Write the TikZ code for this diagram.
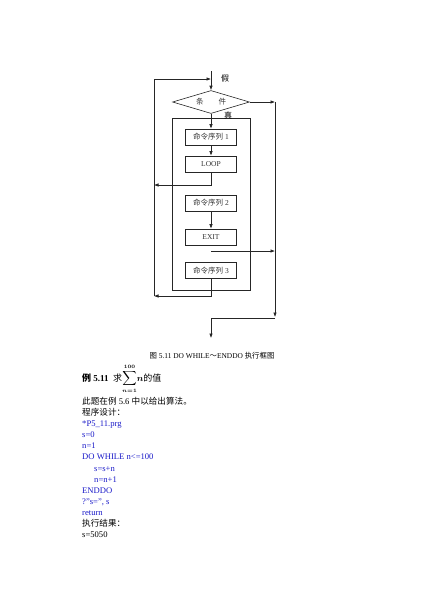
\documentclass[tikz,border=0pt]{standalone}
\usepackage{fontspec}
\setmainfont{Liberation Serif}
\newfontfamily\cjk{Noto Sans CJK SC}
\usepackage{tikz}
\usepackage{xcolor}
\usetikzlibrary{shapes.geometric,arrows.meta,positioning,calc}
\definecolor{codeblue}{RGB}{25,25,200}

\begin{document}
\begin{tikzpicture}[x=1pt, y=-1pt,
    line/.style={draw=black!85, line width=0.6pt},
    arr/.style={line, -{Latex[length=4.5pt,width=3.5pt]}},
    cmdbox/.style={draw=black!85, line width=0.6pt, minimum width=51pt, minimum height=16pt, inner sep=0pt, font=\fontsize{7.5}{8}\selectfont, text=black!80},
    lbl/.style={font=\fontsize{8}{9}\selectfont\cjk, inner sep=0pt}]
    \useasboundingbox (0,0) rectangle (424,600);

    % flow chart
    \node[diamond, aspect=3, draw=black!85, line width=0.6pt, minimum width=77pt, minimum height=23pt, inner sep=0pt, font=\fontsize{7.5}{8}\selectfont\cjk, text=black!80] (cond) at (211,102) {条　　件};
    \node[draw=black!85, line width=0.6pt, minimum width=78pt, minimum height=172pt] (body) at (211.5,204) {};
    \node[cmdbox] (seq1) at (211,137) {{\cjk 命令序列} 1};
    \node[cmdbox] (loop) at (211,164) {LOOP};
    \node[cmdbox] (seq2) at (211,203) {{\cjk 命令序列} 2};
    \node[cmdbox] (exit) at (211,237) {EXIT};
    \node[cmdbox] (seq3) at (211,270.5) {{\cjk 命令序列} 3};
    \node[lbl] (no) at (225,78) {假};
    \node[lbl] (yes) at (228,115) {真};

    \coordinate (entry) at (211,71);
    \coordinate (lt) at (154,79);
    \coordinate (lb) at (154,296);
    \coordinate (back) at (154,185);
    \coordinate (rt) at (275,102);
    \coordinate (rb) at (275,317);
    \coordinate (jump) at (211,251);
    \coordinate (out) at (211,338);

    \draw[arr] (entry) -- (cond.north);
    \draw[arr] (lt) -- (entry |- lt);
    \draw[line] (lt) -- (lb);
    \draw[arr] (cond.south) -- (seq1.north);
    \draw[arr] (seq1) -- (loop);
    \draw[arr] (loop.south) |- (back);
    \draw[arr] (seq2) -- (exit);
    \draw[arr] (jump) -- (jump -| rt);
    \draw[arr] (seq3.south) |- (lb);
    \draw[arr] (cond.east) -- (rt);
    \draw[arr] (rt) -- (rb);
    \draw[arr] (rb) ++(0,1) -| (out);

    % caption and text
    \node[font=\fontsize{7.4}{8}\selectfont] (cap) at (212,356) {{\cjk 图} 5.11 DO WHILE{\cjk ～}ENDDO {\cjk 执行框图}};
    \node[anchor=base west, inner sep=0pt, font=\fontsize{9}{10}\selectfont] (head) at (82,381) {{\cjk\bfseries 例} \textbf{5.11}\enspace{\cjk 求}{\boldmath$\displaystyle\sum_{\scriptscriptstyle n=1}^{\scriptscriptstyle 100}\!n$}{\cjk 的值}};
    \node[anchor=north west, inner sep=0pt, align=left, font=\fontsize{8.6}{11.1}\selectfont] (prog) at (82,397) {%
        {\cjk 此题在例} 5.6 {\cjk 中以给出算法。}\\
        {\cjk 程序设计：}\\
        \textcolor{codeblue}{*P5\_11.prg}\\
        \textcolor{codeblue}{s=0}\\
        \textcolor{codeblue}{n=1}\\
        \textcolor{codeblue}{DO WHILE n<=100}\\
        \hspace*{12pt}\textcolor{codeblue}{s=s+n}\\
        \hspace*{12pt}\textcolor{codeblue}{n=n+1}\\
        \textcolor{codeblue}{ENDDO}\\
        \textcolor{codeblue}{?"s=", s}\\
        \textcolor{codeblue}{return}\\
        {\cjk 执行结果：}\\
        s=5050};
\end{tikzpicture}
\end{document}
